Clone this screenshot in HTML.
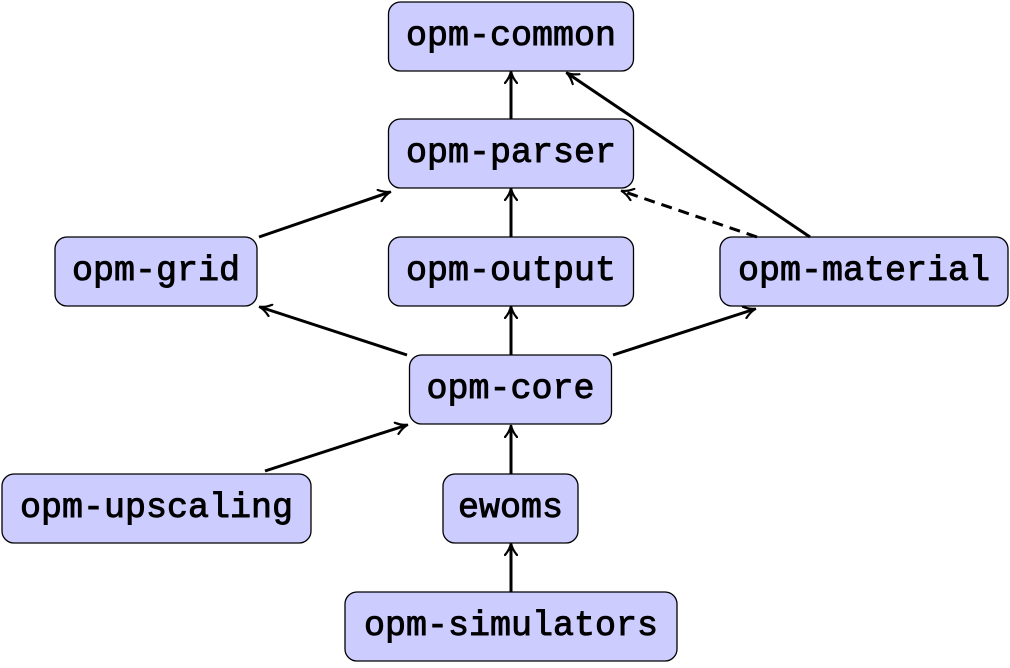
<!DOCTYPE html>
<html><head><style>html,body{margin:0;padding:0;background:#fff}</style></head><body>
<svg width="1010" height="663" viewBox="0 0 1010 663" xmlns="http://www.w3.org/2000/svg">
<defs>
<marker id="a" viewBox="0 0 14 14" refX="12" refY="7" markerWidth="14" markerHeight="14" markerUnits="userSpaceOnUse" orient="auto">
<path d="M1,1 Q7,6 13,7 Q7,8 1,13" fill="none" stroke="#000" stroke-width="2.2" stroke-linecap="round"/>
</marker>
</defs>
<g fill="#ccccff" stroke="#000" stroke-width="1.3">
<rect x="388.5" y="2" width="245" height="69" rx="12"/>
<rect x="388.5" y="119" width="245" height="69" rx="12"/>
<rect x="55" y="237" width="202" height="69" rx="12"/>
<rect x="388.5" y="237" width="245" height="69" rx="12"/>
<rect x="720" y="237" width="288" height="69" rx="12"/>
<rect x="409.5" y="355" width="202" height="69" rx="12"/>
<rect x="2" y="474" width="309" height="69" rx="12"/>
<rect x="443" y="474" width="135" height="69" rx="12"/>
<rect x="345" y="592" width="332" height="69" rx="12"/>
</g>
<g font-family="Liberation Mono, monospace" font-size="35" text-anchor="middle" fill="#000" stroke="#000" stroke-width="0.9">
<text x="511" y="45">opm-common</text>
<text x="511" y="162">opm-parser</text>
<text x="156" y="280">opm-grid</text>
<text x="511" y="280">opm-output</text>
<text x="864" y="280">opm-material</text>
<text x="510.5" y="398">opm-core</text>
<text x="156.5" y="517">opm-upscaling</text>
<text x="510.5" y="517">ewoms</text>
<text x="511" y="635">opm-simulators</text>
</g>
<g stroke="#000" stroke-width="3" fill="none" marker-end="url(#a)">
<line x1="511" y1="119" x2="511" y2="72"/>
<line x1="511" y1="237" x2="511" y2="189"/>
<line x1="259" y1="237" x2="390" y2="192"/>
<line x1="810" y1="237" x2="567" y2="73"/>
<line x1="757" y1="237" x2="622" y2="191" stroke-dasharray="11,7"/>
<line x1="511" y1="355" x2="511" y2="307"/>
<line x1="407" y1="355" x2="260" y2="307"/>
<line x1="613" y1="355" x2="755" y2="309"/>
<line x1="265" y1="471" x2="407" y2="425"/>
<line x1="511" y1="474" x2="511" y2="426"/>
<line x1="511" y1="592" x2="511" y2="544"/>
</g>
</svg>
</body></html>
